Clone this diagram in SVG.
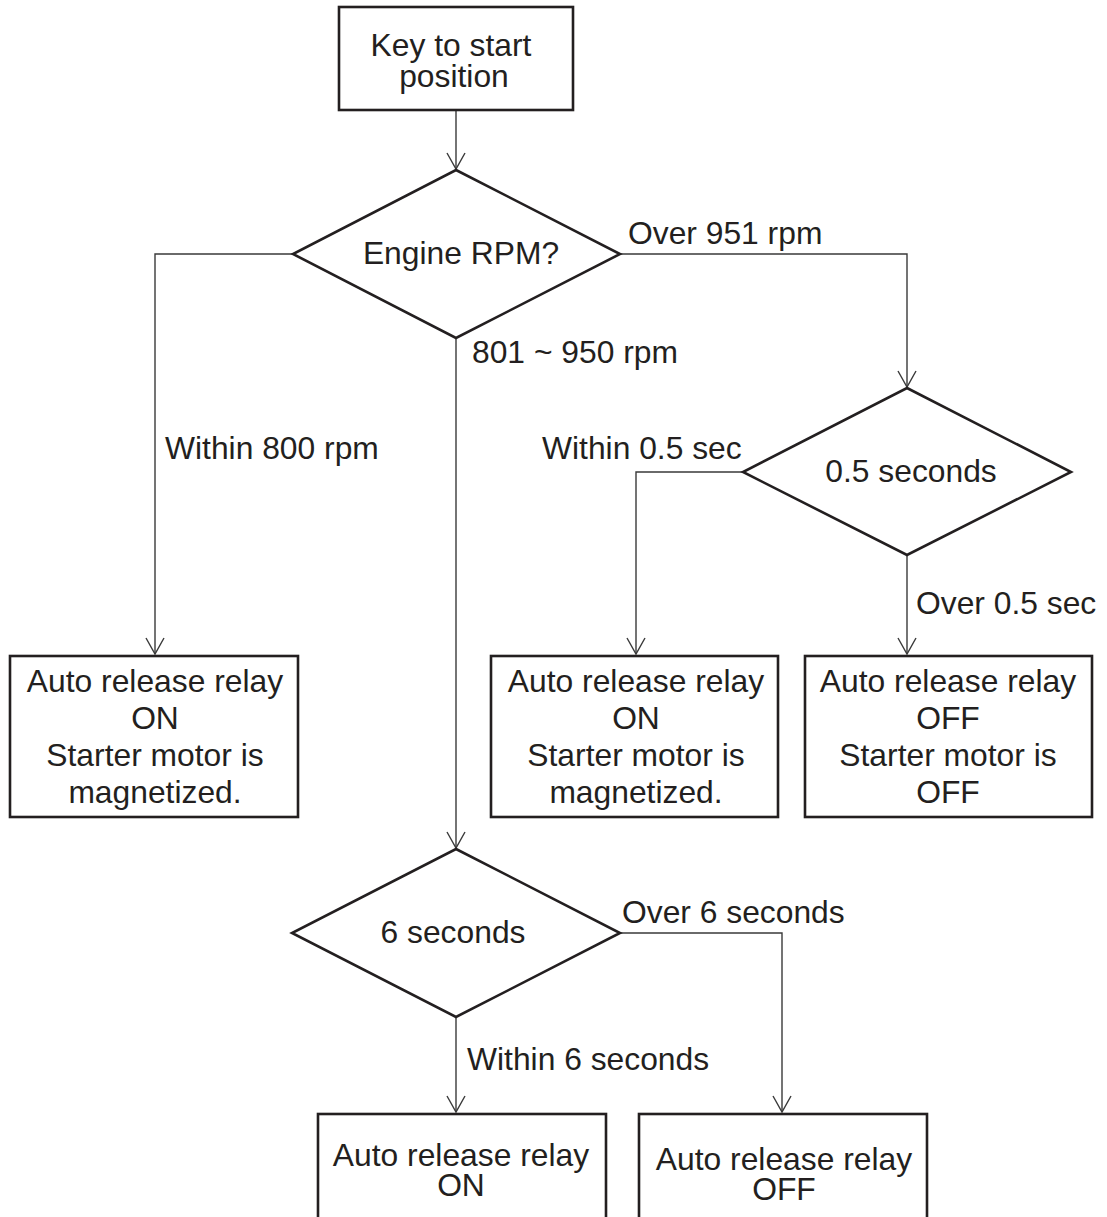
<svg xmlns="http://www.w3.org/2000/svg" width="1107" height="1217" viewBox="0 0 1107 1217">
  <style>
    .node { fill: #ffffff; stroke: #231f20; stroke-width: 2.6; }
    .conn { fill: none; stroke: #3a3a3a; stroke-width: 1.4; }
    text { font-family: "Liberation Sans", Arial, sans-serif; font-size: 31.8px; fill: #231f20; }
    .c { text-anchor: middle; }
  </style>
  <defs>
    <marker id="arrow" markerUnits="userSpaceOnUse" markerWidth="20" markerHeight="22" viewBox="-18 -11 20 22" refX="0" refY="0" orient="auto">
      <path d="M-16,-9 L0,0 L-16,9" fill="none" stroke="#3a3a3a" stroke-width="1.4"/>
    </marker>
  </defs>

  <rect width="1107" height="1217" fill="#ffffff"/>

  <!-- connectors -->
  <g id="connectors">
    <path class="conn" d="M456,110 V169" marker-end="url(#arrow)"/>
    <path class="conn" d="M293,254 H155 V654" marker-end="url(#arrow)"/>
    <path class="conn" d="M620,254 H907 V387" marker-end="url(#arrow)"/>
    <path class="conn" d="M456,338 V848" marker-end="url(#arrow)"/>
    <path class="conn" d="M743,472 H636 V654" marker-end="url(#arrow)"/>
    <path class="conn" d="M907,555 V654" marker-end="url(#arrow)"/>
    <path class="conn" d="M456,1017 V1112" marker-end="url(#arrow)"/>
    <path class="conn" d="M620,933 H782 V1112" marker-end="url(#arrow)"/>
  </g>

  <!-- connector labels -->
  <g id="labels">
    <text x="628" y="244">Over 951 rpm</text>
    <text x="472" y="363">801 ~ 950 rpm</text>
    <text x="165" y="459">Within 800 rpm</text>
    <text x="542" y="459">Within 0.5 sec</text>
    <text x="916" y="614">Over 0.5 sec</text>
    <text x="622" y="923">Over 6 seconds</text>
    <text x="467" y="1070">Within 6 seconds</text>
  </g>

  <g id="start">
    <rect class="node" x="339" y="7" width="234" height="103"/>
    <text class="c" x="451" y="56">Key to start</text>
    <text class="c" x="454" y="87">position</text>
  </g>

  <g id="rpm">
    <polygon class="node" points="456,170 620,254 456,338 293,254"/>
    <text class="c" x="461" y="264">Engine RPM?</text>
  </g>

  <g id="half-second">
    <polygon class="node" points="907,388 1071,472 907,555 743,472"/>
    <text class="c" x="911" y="482">0.5 seconds</text>
  </g>

  <g id="six-seconds">
    <polygon class="node" points="456,849 620,933 456,1017 292,933"/>
    <text class="c" x="453" y="943">6 seconds</text>
  </g>

  <g id="low-rpm-on">
    <rect class="node" x="10" y="656" width="288" height="161"/>
    <text class="c" x="155" y="692">Auto release relay</text>
    <text class="c" x="155" y="729">ON</text>
    <text class="c" x="155" y="766">Starter motor is</text>
    <text class="c" x="155" y="803">magnetized.</text>
  </g>

  <g id="quick-on">
    <rect class="node" x="491" y="656" width="287" height="161"/>
    <text class="c" x="636" y="692">Auto release relay</text>
    <text class="c" x="636" y="729">ON</text>
    <text class="c" x="636" y="766">Starter motor is</text>
    <text class="c" x="636" y="803">magnetized.</text>
  </g>

  <g id="slow-off">
    <rect class="node" x="805" y="656" width="287" height="161"/>
    <text class="c" x="948" y="692">Auto release relay</text>
    <text class="c" x="948" y="729">OFF</text>
    <text class="c" x="948" y="766">Starter motor is</text>
    <text class="c" x="948" y="803">OFF</text>
  </g>

  <g id="within-six-on">
    <rect class="node" x="318" y="1114" width="288" height="120"/>
    <text class="c" x="461" y="1166">Auto release relay</text>
    <text class="c" x="461" y="1196">ON</text>
  </g>

  <g id="over-six-off">
    <rect class="node" x="639" y="1114" width="288" height="120"/>
    <text class="c" x="784" y="1170">Auto release relay</text>
    <text class="c" x="784" y="1200">OFF</text>
  </g>
</svg>
